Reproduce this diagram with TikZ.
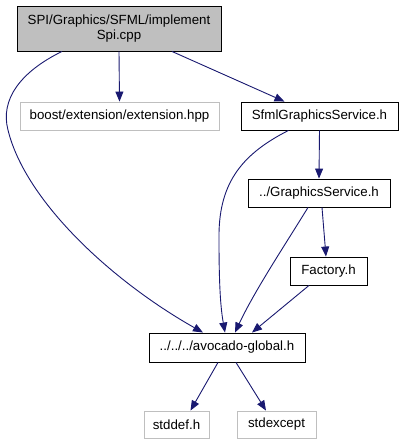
\documentclass[tikz,border=0pt]{standalone}
\usepackage{fontspec}
\setmainfont{Liberation Sans}
\usetikzlibrary{arrows.meta}

\definecolor{edgeblue}{HTML}{191970}
\definecolor{greyline}{HTML}{BFBFBF}

\tikzset{
  filebox/.style={draw=black, fill=white, line width=0.9pt, inner sep=0pt,
    font=\fontsize{13.3}{15.5}\selectfont, align=center},
  extbox/.style={filebox, draw=greyline},
  rootbox/.style={filebox, fill=greyline},
  incl/.style={draw=edgeblue, line width=0.9pt,
    -{Triangle[length=10pt,width=8pt]}}
}

\begin{document}
\begin{tikzpicture}[x=1pt,y=-1pt]
  \useasboundingbox (0,0) rectangle (402,445);

%files
  \node[rootbox, minimum width=204, minimum height=45] (spi) at (119,28.5)
    {SPI/Graphics/SFML/implement\\Spi.cpp};
  \node[extbox, minimum width=199, minimum height=28] (boost) at (119.5,116)
    {boost/extension/extension.hpp};
  \node[filebox, minimum width=157, minimum height=28] (sfml) at (319.5,116)
    {SfmlGraphicsService.h};
  \node[filebox, minimum width=142, minimum height=28] (gserv) at (319,193)
    {../GraphicsService.h};
  \node[filebox, minimum width=77, minimum height=28] (factory) at (328.5,271)
    {Factory.h};
  \node[filebox, minimum width=156, minimum height=29] (global) at (227,347.5)
    {../../../avocado-global.h};
  \node[extbox, minimum width=65, minimum height=27] (stddef) at (176.5,424.5)
    {stddef.h};
  \node[extbox, minimum width=79, minimum height=27] (stdexcept) at (276.5,424.5)
    {stdexcept};

%includes
  \draw[incl] (spi.south) -- (boost.north);
  \draw[incl] ([xshift=53]spi.south) -- ([xshift=-35]sfml.north);
  \draw[incl] ([xshift=-57]spi.south)
    .. controls (20,72) and (0,100) .. (8,130)
    .. controls (25,200) and (110,280) .. ([xshift=-24]global.north);
  \draw[incl] (sfml.south) -- (gserv.north);
  \draw[incl] ([xshift=-31]sfml.south)
    .. controls (240,155) and (218,185) .. (219,240)
    .. controls (219,290) and (221,310) .. ([xshift=-2]global.north);
  \draw[incl] ([xshift=3]gserv.south) -- ([xshift=-2.5]factory.north);
  \draw[incl] ([xshift=-11]gserv.south)
    .. controls (285,245) and (255,290) .. ([xshift=8]global.north);
  \draw[incl] ([xshift=-19.5]factory.south) -- ([xshift=25]global.north);
  \draw[incl] ([xshift=-9]global.south) -- ([xshift=14]stddef.north);
  \draw[incl] ([xshift=9]global.south) -- ([xshift=-10.5]stdexcept.north);
\end{tikzpicture}
\end{document}
